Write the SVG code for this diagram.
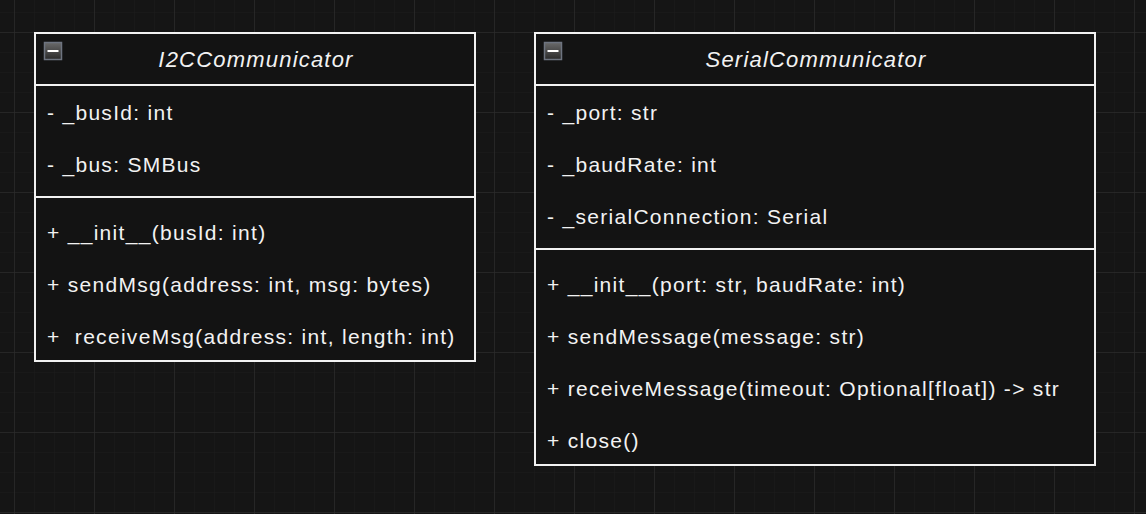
<svg xmlns="http://www.w3.org/2000/svg" width="1146" height="514" viewBox="0 0 1146 514">
  <defs>
    <pattern id="minor" x="14" y="12" width="20" height="20" patternUnits="userSpaceOnUse">
      <path d="M0 0H20M0 0V20" fill="none" stroke="#1d1d1d" stroke-width="1"/>
    </pattern>
    <pattern id="major" x="14" y="32" width="80" height="80" patternUnits="userSpaceOnUse">
      <path d="M0 0H80M0 0V80" fill="none" stroke="#2a2a2a" stroke-width="1.5"/>
    </pattern>
    <linearGradient id="iconfill" x1="0" y1="0" x2="0" y2="1">
      <stop offset="0" stop-color="#6a6a6a"/>
      <stop offset="1" stop-color="#2a2a2a"/>
    </linearGradient>
    <g id="collapse">
      <rect x="0" y="0" width="17" height="17" fill="url(#iconfill)" stroke="#6e7480" stroke-width="1.5"/>
      <path d="M3 8.5H14" stroke="#ffffff" stroke-width="2"/>
    </g>
  </defs>
  <style>
    .box { fill: #131313; stroke: #f2f2f2; stroke-width: 2; }
    .sep { stroke: #f2f2f2; stroke-width: 2; }
    text { font-family: "Liberation Sans", Arial, sans-serif; font-size: 21px; letter-spacing: 1.3px; fill: #f2f2f2; white-space: pre; }
    .title { font-style: italic; text-anchor: middle; font-size: 22px; letter-spacing: 1.2px; }
  </style>
  <rect width="1146" height="514" fill="#151515"/>
  <rect width="1146" height="514" fill="url(#minor)"/>
  <rect width="1146" height="514" fill="url(#major)"/>

  <g id="I2CCommunicator">
    <rect class="box" x="35" y="33" width="440" height="328"/>
    <line class="sep" x1="35" y1="85" x2="475" y2="85"/>
    <line class="sep" x1="35" y1="197" x2="475" y2="197"/>
    <use href="#collapse" x="44.5" y="42.5"/>
    <text class="title" x="256" y="67">I2CCommunicator</text>
    <text x="47" y="120">- _busId: int</text>
    <text x="47" y="172">- _bus: SMBus</text>
    <text x="47" y="240">+ __init__(busId: int)</text>
    <text x="47" y="292">+ sendMsg(address: int, msg: bytes)</text>
    <text x="47" y="344" xml:space="preserve">+  receiveMsg(address: int, length: int)</text>
  </g>

  <g id="SerialCommunicator">
    <rect class="box" x="535" y="33" width="560" height="432"/>
    <line class="sep" x1="535" y1="85" x2="1095" y2="85"/>
    <line class="sep" x1="535" y1="249" x2="1095" y2="249"/>
    <use href="#collapse" x="544.5" y="42.5"/>
    <text class="title" x="816" y="67">SerialCommunicator</text>
    <text x="547" y="120">- _port: str</text>
    <text x="547" y="172">- _baudRate: int</text>
    <text x="547" y="224">- _serialConnection: Serial</text>
    <text x="547" y="292">+ __init__(port: str, baudRate: int)</text>
    <text x="547" y="344">+ sendMessage(message: str)</text>
    <text x="547" y="396">+ receiveMessage(timeout: Optional[float]) -&gt; str</text>
    <text x="547" y="448">+ close()</text>
  </g>

  <g id="connectors"/>
</svg>
